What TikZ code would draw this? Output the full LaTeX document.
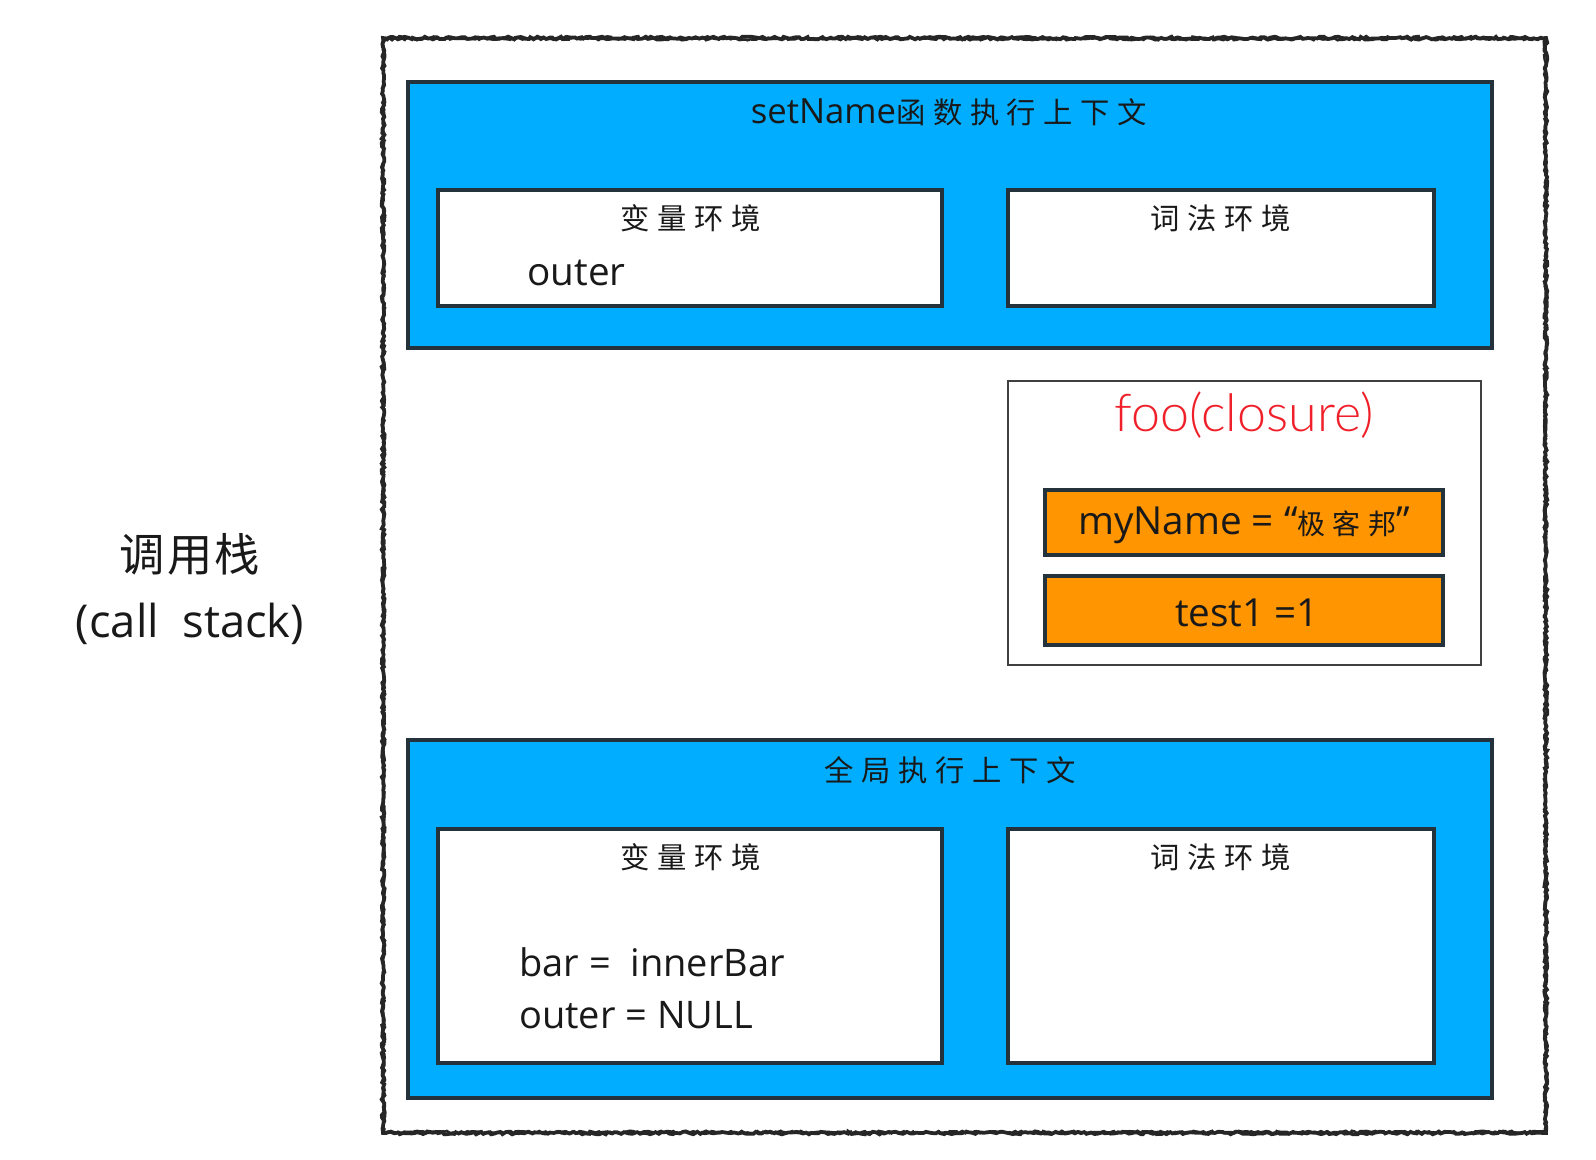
\documentclass[tikz,border=0pt]{standalone}
\usepackage{fontspec}
\usetikzlibrary{decorations.pathmorphing}
\setmainfont{Open Sans}
\newfontfamily\thinlat[UprightFont=* Light]{Lato}
\newfontfamily\cjk[LetterSpace=26]{Noto Sans CJK SC}
\newfontfamily\cjkwide[LetterSpace=5]{Noto Sans CJK SC}
\definecolor{linec}{HTML}{24323B}
\definecolor{ctxblue}{HTML}{00ADFF}
\definecolor{varorange}{HTML}{FF9500}
\definecolor{closred}{HTML}{F0202A}
\newcommand{\fs}[1]{\fontsize{#1}{#1}\selectfont}
\tikzset{
  x=0.75pt,y=-0.75pt,
  ctxbox/.style={draw=linec,line width=2.3pt,fill=ctxblue},
  envbox/.style={draw=linec,line width=2.3pt,fill=white},
  closbox/.style={draw=black!75,line width=2pt,fill=white},
  varbox/.style={draw=linec,line width=2.3pt,fill=varorange},
  rough/.style={draw=black!85,line width=2.8pt,decorate,decoration={random steps,segment length=2.2pt,amplitude=1pt}},
  lbl/.style={inner sep=0pt,text=black!90,align=center},
  lft/.style={lbl,anchor=west},
}
\begin{document}
\begin{tikzpicture}
\useasboundingbox (0,0) rectangle (1596,1160);
\fill[white] (0,0) rectangle (1596,1160);
% call stack frame
\pgfmathsetseed{7}
\draw[rough] (383,38) rectangle (1546,1133);
\draw[rough,line width=1.8pt] (384,39) rectangle (1545,1132);
% setName context
\draw[ctxbox] (408,82) rectangle (1492,348);
\draw[envbox] (438,190) rectangle (942,306);
\draw[envbox] (1008,190) rectangle (1434,306);
% closure
\draw[closbox] (1008,381) rectangle (1481,665);
\draw[varbox] (1045,490) rectangle (1443,555);
\draw[varbox] (1045,576) rectangle (1443,645);
% global context
\draw[ctxbox] (408,740) rectangle (1492,1098);
\draw[envbox] (438,829) rectangle (942,1063);
\draw[envbox] (1008,829) rectangle (1434,1063);
% texts
\node[lbl] (stackzh) at (190,554) {\fs{34}\cjkwide 调用栈};
\node[lbl] (stacken) at (190,624) {\fs{34}(call\ \ stack)};
\node[lbl] (settitle) at (949,112) {\fs{26}setName{\fs{22}\cjk 函数执行上下文}};
\node[lbl] (setvar) at (691,218) {\fs{22}\cjk 变量环境};
\node[lft] (setouter) at (527,273) {\fs{29}outer};
\node[lbl] (setlex) at (1221,218) {\fs{22}\cjk 词法环境};
\node[lbl,text=closred] (clostitle) at (1244,415) {\fs{39}\thinlat foo(closure)};
\node[lbl] (myname) at (1244,525) {\fs{29}myName = “{\fs{21}\cjk 极客邦}”};
\node[lbl] (testone) at (1247,613) {\fs{29}test1 =1};
\node[lbl] (globtitle) at (950,770) {\fs{22}\cjk 全局执行上下文};
\node[lbl] (globvar) at (691,857) {\fs{22}\cjk 变量环境};
\node[lbl] (globlex) at (1221,857) {\fs{22}\cjk 词法环境};
\node[lft] (barline) at (519,962) {\fs{28.5}bar =\ \ innerBar};
\node[lft] (outerline) at (519,1015) {\fs{28.5}outer = NULL};
\end{tikzpicture}
\end{document}
